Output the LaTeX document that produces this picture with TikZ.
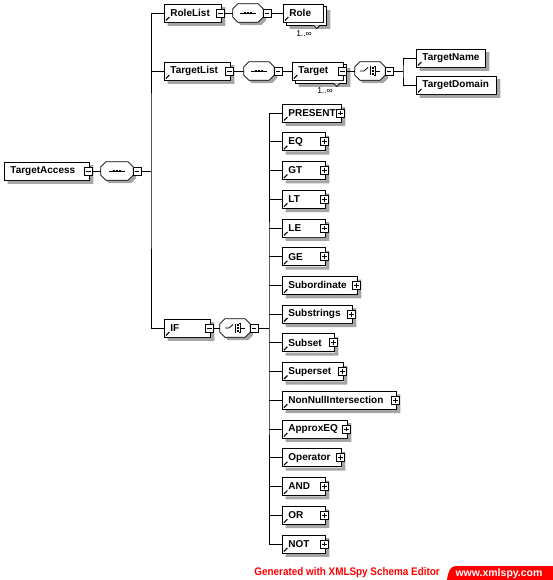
\documentclass[tikz,border=0pt]{standalone}
\usepackage{fontspec}
\setmainfont{Liberation Sans}
\definecolor{shadowgray}{RGB}{165,165,165}
\newcommand{\octo}[1]{%
  \fill[shadowgray] ([shift={(8pt,-3pt)}]#1.north west) -- ([shift={(-2pt,-3pt)}]#1.north east) -- ([shift={(3pt,-8pt)}]#1.north east) -- ([shift={(3pt,2pt)}]#1.south east) -- ([shift={(-2pt,-3pt)}]#1.south east) -- ([shift={(8pt,-3pt)}]#1.south west) -- ([shift={(3pt,2pt)}]#1.south west) -- ([shift={(3pt,-8pt)}]#1.north west) -- cycle;
  \filldraw[draw=black, fill=white, line width=0.8pt] ([xshift=5pt]#1.north west) -- ([xshift=-5pt]#1.north east) -- ([yshift=-5pt]#1.north east) -- ([yshift=5pt]#1.south east) -- ([xshift=-5pt]#1.south east) -- ([xshift=5pt]#1.south west) -- ([yshift=5pt]#1.south west) -- ([yshift=-5pt]#1.north west) -- cycle;}
\newcommand{\seqsym}[1]{%
  \draw[line width=0.8pt] ([xshift=-8pt]#1.center) -- ([xshift=8pt]#1.center);
  \foreach \d in {-3,0,3} \fill ([shift={(\d pt-1.25pt,-1.25pt)}]#1.center) rectangle ++(2.5pt,2.5pt);}
\newcommand{\chcsym}[1]{%
  \draw[line width=0.8pt] ([xshift=-10pt]#1.center) -- ++(4pt,0pt) -- ++(4pt,3.5pt);
  \draw[line width=0.8pt] ([shift={(0.5pt,-4.5pt)}]#1.center) -- ++(0pt,9pt);
  \foreach \d in {-3.2,0,3.2} \fill ([shift={(1.8pt,\d pt-0.9pt)}]#1.center) rectangle ++(2.2pt,1.8pt);
  \draw[line width=0.8pt] ([shift={(4.2pt,4.5pt)}]#1.center) -- ++(1.4pt,0pt) -- ++(0pt,-9pt) -- ++(-1.4pt,0pt);
  \draw[line width=0.8pt] ([xshift=5.6pt]#1.center) -- ++(4.4pt,0pt);}
\newcommand{\boxshadow}[1]{%
  \fill[shadowgray] ([shift={(0.4pt,-3.5pt)}]#1.north east) -- ([shift={(3.5pt,-3.5pt)}]#1.north east) -- ([shift={(3.5pt,-3.5pt)}]#1.south east) -- ([shift={(3.5pt,-3.5pt)}]#1.south west) -- ([shift={(3.5pt,-0.4pt)}]#1.south west) -- ([shift={(0.4pt,-0.4pt)}]#1.south east) -- cycle;}
\newcommand{\multishadow}[1]{%
  \fill[shadowgray] ([shift={(3.4pt,-6.5pt)}]#1.north east) -- ([shift={(6.5pt,-6.5pt)}]#1.north east) -- ([shift={(6.5pt,-6.5pt)}]#1.south east) -- ([shift={(6.5pt,-6.5pt)}]#1.south west) -- ([shift={(6.5pt,-3.4pt)}]#1.south west) -- ([shift={(3.4pt,-3.4pt)}]#1.south east) -- cycle;
  \fill[white] ([shift={(0.4pt,-3pt)}]#1.north east) -- ([shift={(3pt,-3pt)}]#1.north east) -- ([shift={(3pt,-3pt)}]#1.south east) -- ([shift={(3pt,-3pt)}]#1.south west) -- ([shift={(3pt,-0.4pt)}]#1.south west) -- ([shift={(0.4pt,-0.4pt)}]#1.south east) -- cycle;
  \draw[line width=0.8pt] ([shift={(0pt,-3pt)}]#1.north east) -- ([shift={(3pt,-3pt)}]#1.north east) -- ([shift={(3pt,-3pt)}]#1.south east) -- ([shift={(3pt,-3pt)}]#1.south west) -- ([shift={(3pt,0pt)}]#1.south west);
  \draw[line width=0.8pt, fill=white] ([shift={(-10pt,-3pt)}]#1.south east) -- ++(3pt,-3pt) -- ++(3pt,3pt);}
\begin{document}
\begin{tikzpicture}[x=1pt,y=-1pt,
 lbl/.style={font=\bfseries\fontsize{10}{11}\selectfont},
 box/.style={draw=black, fill=white, line width=0.8pt, minimum height=18pt, inner ysep=0pt, inner xsep=6pt, anchor=west, align=left, lbl},
 refmark/.style={path picture={\draw[line width=1.1pt] ([shift={(1.5pt,1.5pt)}]path picture bounding box.south west) -- ++(3.5pt,3.5pt); \fill ([shift={(7.5pt,7.5pt)}]path picture bounding box.south west) -- ++(-4pt,0pt) -- ++(4pt,-4pt) -- cycle;}},
 xsq/.style={draw=black, fill=white, line width=0.7pt, minimum size=8pt, inner sep=0pt},
 minus/.style={xsq, path picture={\draw[line width=0.7pt] ([xshift=1.6pt]path picture bounding box.west) -- ([xshift=-1.6pt]path picture bounding box.east);}},
 plus/.style={xsq, path picture={\draw[line width=0.7pt] ([xshift=1.6pt]path picture bounding box.west) -- ([xshift=-1.6pt]path picture bounding box.east); \draw[line width=0.7pt] ([yshift=1.6pt]path picture bounding box.south) -- ([yshift=-1.6pt]path picture bounding box.north);}},
 oct/.style={draw=none, fill=none, minimum width=30pt, minimum height=18pt, inner sep=0pt},
 conn/.style={draw=black, line width=0.8pt},
 mult/.style={font=\fontsize{8.5}{9}\selectfont},
]
\useasboundingbox (0,0) rectangle (553,580);
\fill[white] (0,0) rectangle (553,580);

% root
\node[box, text width=73pt] (ta) at (4,171) {\mbox{TargetAccess}};
\boxshadow{ta}
\node[minus] (ta-x) at ([xshift=-1pt]ta.east) {};
\node[oct, minimum width=32pt] (ta-s) at (117,171) {};
\octo{ta-s}\seqsym{ta-s}
\node[minus] (ta-sx) at (137,171) {};
\coordinate (b1) at (151,171);

% RoleList
\node[box, refmark, text width=45pt] (rolelist) at (164,13) {\mbox{RoleList}};
\boxshadow{rolelist}
\node[minus] (rolelist-x) at ([xshift=-1pt]rolelist.east) {};
\node[oct] (rl-s) at (248,13) {};
\octo{rl-s}\seqsym{rl-s}
\node[minus] (rl-sx) at (267,13) {};
\node[box, refmark, text width=28pt] (role) at (283,13) {\mbox{Role}};
\multishadow{role}
\node[mult] (role-m) at (304,34) {1..∞};

% TargetList
\node[box, refmark, text width=54pt] (targetlist) at (164,71) {\mbox{TargetList}};
\boxshadow{targetlist}
\node[minus] (targetlist-x) at ([xshift=-1pt]targetlist.east) {};
\node[oct] (tl-s) at (259,71) {};
\octo{tl-s}\seqsym{tl-s}
\node[minus] (tl-sx) at (278,71) {};
\node[box, refmark, text width=39pt] (target) at (292,71) {\mbox{Target}};
\multishadow{target}
\node[minus] (target-x) at ([xshift=-1pt]target.east) {};
\node[mult] (target-m) at (325,91) {1..∞};
\node[oct] (t-c) at (370,71) {};
\octo{t-c}\chcsym{t-c}
\node[minus] (t-cx) at (389,71) {};
\coordinate (b2) at (403,71);
\node[box, refmark, text width=57pt] (targetname) at (416,58) {\mbox{TargetName}};
\boxshadow{targetname}
\node[box, refmark, text width=68pt] (targetdomain) at (416,85) {\mbox{TargetDomain}};
\boxshadow{targetdomain}

% IF
\node[box, refmark, text width=34pt] (if) at (164,328) {\mbox{IF}};
\boxshadow{if}
\node[minus] (if-x) at ([xshift=-1pt]if.east) {};
\node[oct] (if-c) at (235,328) {};
\octo{if-c}\chcsym{if-c}
\node[minus] (if-cx) at (254,328) {};
\coordinate (b3) at (269,328);

% IF children
\foreach \nm/\yy/\tw/\txt in {
  present/113/47/PRESENT, eq/141.7/31/EQ, gt/170.5/31/GT, lt/199.2/31/LT,
  le/227.9/31/LE, ge/256.7/31/GE, subordinate/285.4/63/Subordinate,
  substrings/314.1/58/Substrings, subset/342.8/40/Subset, superset/371.6/49/Superset,
  nni/400.3/102/NonNullIntersection, approxeq/429/53/ApproxEQ, operator/457.8/47/Operator,
  and/486.5/31/AND, or/515.2/31/OR, not/544/31/NOT}{
  \node[box, refmark, text width=\tw pt] (\nm) at (282,\yy) {\mbox{\txt}};
  \boxshadow{\nm}
  \node[plus] (\nm-x) at ([xshift=-1pt]\nm.east) {};
}

% connectors
\draw[conn] (ta-x.east) -- (ta-s.west);
\draw[conn] (ta-sx.east) -- (b1);
\draw[conn] (rolelist.west) -| (b1) |- (if.west);
\draw[conn] (targetlist.west) -- (targetlist.west -| b1);
\draw[conn] (rolelist-x.east) -- (rl-s.west);
\draw[conn] (rl-sx.east) -- (role.west);
\draw[conn] (targetlist-x.east) -- (tl-s.west);
\draw[conn] (tl-sx.east) -- (target.west);
\draw[conn] (target-x.east) -- (t-c.west);
\draw[conn] (t-cx.east) -- (b2);
\draw[conn] (targetname.west) -| (b2) |- (targetdomain.west);
\draw[conn] (if-x.east) -- (if-c.west);
\draw[conn] (if-cx.east) -- (b3);
\draw[conn] (present.west) -| (b3) |- (not.west);
\foreach \nm in {eq,gt,lt,le,ge,subordinate,substrings,subset,superset,nni,approxeq,operator,and,or}
  \draw[conn] (\nm.west) -- (\nm.west -| b3);

% footer
\node[text=red, font=\bfseries\fontsize{11}{12}\selectfont, anchor=east, inner sep=0pt] (gen) at (440,573) {\scalebox{0.9}[1]{Generated with XMLSpy Schema Editor}};
\fill[red] (447,580) .. controls (448,572) and (450,566) .. (456,566) -- (553,566) -- (553,580) -- cycle;
\node[text=white, font=\bfseries\fontsize{10.5}{12}\selectfont, inner sep=0pt] (www) at (499,573.5) {www.xmlspy.com};
\end{tikzpicture}
\end{document}
